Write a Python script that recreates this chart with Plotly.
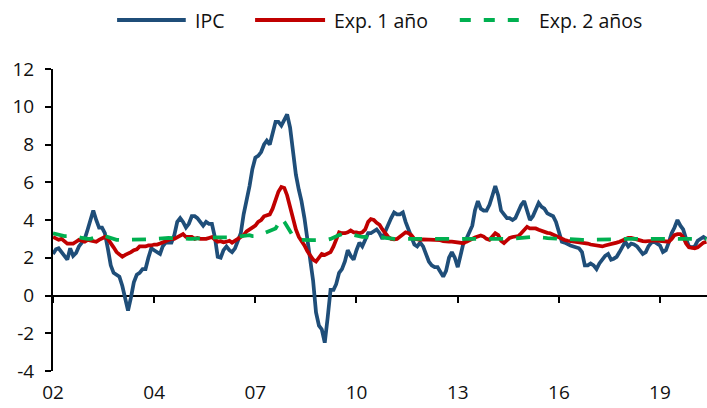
import plotly.graph_objects as go
import pandas as pd

# Monthly observations, Jan 2002 .. Nov 2020
start_month = "2002-01-01"
n_months = 227
dates = pd.date_range(start_month, periods=n_months, freq="MS")

ipc = [
    2.2, 2.45, 2.5, 2.3, 2.05, 1.9, 2.5, 2.1, 2.25, 2.6, 2.8, 3.0,
    3.5, 4.0, 4.5, 4.0, 3.6, 3.6, 3.3, 2.5, 1.6, 1.2, 1.1, 1.0,
    0.5, -0.2, -0.8, -0.1, 0.7, 1.1, 1.2, 1.4, 1.4, 2.0, 2.5, 2.4,
    2.3, 2.2, 2.6, 2.8, 2.8, 2.8, 3.2, 3.9, 4.1, 3.9, 3.6, 3.8,
    4.2, 4.2, 4.1, 3.9, 3.7, 3.9, 3.8, 3.8, 3.1, 2.05, 2.0, 2.4,
    2.6, 2.4, 2.3, 2.5, 2.9, 3.3, 4.3, 5.0, 5.8, 6.7, 7.3, 7.4,
    7.6, 8.0, 8.2, 8.0, 8.6, 9.2, 9.2, 9.0, 9.3, 9.6, 8.9, 7.5,
    6.4, 5.6, 5.0, 4.1, 3.0, 2.0, 0.8, -0.9, -1.6, -1.8, -2.5, -1.2,
    0.3, 0.3, 0.6, 1.2, 1.4, 1.8, 2.4, 2.1, 1.9, 2.4, 2.8, 2.6,
    3.0, 3.3, 3.3, 3.4, 3.5, 3.3, 3.0, 3.4, 3.8, 4.1, 4.4, 4.3,
    4.3, 4.4, 3.9, 3.5, 3.1, 2.7, 2.6, 2.8, 2.6, 2.2, 1.8, 1.6,
    1.5, 1.5, 1.3, 1.0, 1.3, 2.0, 2.3, 2.0, 1.5, 2.2, 2.8, 3.0,
    3.3, 3.7, 4.5, 5.0, 4.6, 4.5, 4.5, 4.8, 5.3, 5.8, 5.3, 4.5,
    4.3, 4.1, 4.1, 4.0, 4.1, 4.5, 4.8, 5.0, 4.5, 4.0, 4.2, 4.5,
    4.9, 4.7, 4.6, 4.35, 4.3, 4.2, 3.9, 3.3, 2.85, 2.8, 2.7, 2.65,
    2.6, 2.55, 2.5, 2.3, 1.6, 1.6, 1.7, 1.6, 1.4, 1.7, 1.9, 2.1,
    2.2, 1.9, 1.95, 2.05, 2.3, 2.6, 2.85, 2.6, 2.75, 2.7, 2.6, 2.4,
    2.2, 2.3, 2.6, 2.8, 2.85, 2.75, 2.65, 2.3, 2.4, 2.8, 3.3, 3.6,
    4.0, 3.7, 3.5, 3.0, 2.6, 2.55, 2.6, 2.9, 3.0, 3.1, 3.0,
]

exp_1y = [
    3.1, 3.0, 2.95, 3.0, 2.85, 2.75, 2.75, 2.75, 2.85, 2.95, 2.9, 2.85,
    2.95, 2.9, 2.85, 2.85, 2.95, 3.0, 3.1, 3.0, 2.8, 2.55, 2.3, 2.2,
    2.05, 2.15, 2.25, 2.3, 2.4, 2.45, 2.6, 2.6, 2.6, 2.65, 2.65, 2.7,
    2.7, 2.75, 2.8, 2.85, 2.95, 3.0, 3.0, 3.1, 3.2, 3.25, 3.1, 3.1,
    3.1, 3.0, 3.05, 3.0, 3.0, 3.0, 3.05, 3.1, 2.97, 2.85, 2.88, 2.82,
    2.85, 2.9, 2.8, 2.9, 2.97, 3.05, 3.2, 3.4, 3.5, 3.55, 3.7, 3.9,
    4.0, 4.2, 4.25, 4.3, 4.6, 5.1, 5.5, 5.75, 5.7, 5.3, 4.7, 4.0,
    3.5, 3.1, 2.9, 2.65, 2.35, 2.1, 1.9, 1.8, 2.05, 2.2, 2.15, 2.25,
    2.3, 2.6, 3.0, 3.35, 3.3, 3.3, 3.35, 3.45, 3.35, 3.35, 3.3, 3.35,
    3.5, 3.9, 4.05, 4.0, 3.85, 3.75, 3.5, 3.3, 3.1, 3.0, 2.97, 3.0,
    3.1, 3.2, 3.35, 3.3, 3.2, 3.0, 2.95, 2.95, 2.97, 2.97, 2.95, 2.95,
    2.95, 2.95, 2.93, 2.88, 2.85, 2.85, 2.85, 2.82, 2.8, 2.77, 2.77, 2.85,
    2.95, 3.0, 3.08, 3.15, 3.18, 3.12, 3.0, 2.95, 3.15, 3.3, 3.2, 2.9,
    2.78, 2.95, 3.05, 3.1, 3.12, 3.15, 3.3, 3.5, 3.64, 3.55, 3.55, 3.55,
    3.48, 3.42, 3.38, 3.32, 3.3, 3.22, 3.15, 3.05, 3.0, 2.94, 2.9, 2.88,
    2.87, 2.86, 2.85, 2.83, 2.8, 2.75, 2.7, 2.67, 2.62, 2.58, 2.6, 2.65,
    2.68, 2.7, 2.74, 2.8, 2.85, 2.92, 3.0, 3.05, 3.05, 3.0, 2.97, 2.93,
    2.88, 2.87, 2.87, 2.9, 2.92, 2.9, 2.87, 2.85, 2.85, 2.85, 3.0, 3.2,
    3.25, 3.25, 3.1, 2.75, 2.55, 2.5, 2.5, 2.55, 2.7, 2.8, 2.85,
]

exp_2y = [
    3.3, 3.25, 3.2, 3.2, 3.15, 3.15, 3.1, 3.1, 3.1, 3.1, 3.05, 3.0,
    3.0, 3.0, 3.05, 3.1, 3.15, 3.2, 3.15, 3.1, 3.0, 2.95, 2.95, 2.94,
    2.94, 2.94, 2.94, 2.94, 2.94, 2.94, 2.95, 2.97, 2.98, 2.98, 2.98, 3.0,
    3.0, 3.0, 3.02, 3.04, 3.05, 3.06, 3.05, 3.04, 3.02, 3.0, 3.0, 3.0,
    3.0, 3.0, 3.0, 3.0, 3.02, 3.04, 3.06, 3.08, 3.08, 3.08, 3.08, 3.07,
    3.06, 3.06, 3.06, 3.08, 3.12, 3.15, 3.18, 3.2, 3.2, 3.15, 3.15, 3.2,
    3.22, 3.3, 3.35, 3.4, 3.5, 3.55, 3.8, 4.1, 3.9, 3.6, 3.4, 3.15,
    3.0, 2.95, 2.94, 2.94, 2.94, 2.94, 2.94, 2.94, 2.94, 2.94, 2.94, 2.96,
    3.0, 3.08, 3.15, 3.2, 3.25, 3.3, 3.3, 3.25, 3.2, 3.2, 3.15, 3.1,
    3.1, 3.1, 3.1, 3.1, 3.1, 3.1, 3.08, 3.05, 3.02, 3.0, 3.0, 3.0,
    3.0, 3.0, 3.0, 3.0, 3.0, 3.0, 3.0, 3.0, 3.0, 3.0, 3.0, 3.0,
    2.97, 2.97, 2.97, 2.97, 2.97, 2.97, 2.97, 2.97, 2.97, 2.97, 2.97, 2.97,
    2.98, 3.0, 3.0, 3.0, 3.0, 3.0, 3.0, 3.0, 3.0, 3.0, 3.0, 3.0,
    3.0, 3.0, 3.0, 3.0, 3.02, 3.04, 3.06, 3.08, 3.08, 3.1, 3.1, 3.1,
    3.1, 3.08, 3.06, 3.04, 3.02, 3.0, 3.0, 3.0, 3.0, 3.0, 3.0, 3.0,
    2.98, 2.97, 2.96, 2.95, 2.95, 2.94, 2.94, 2.94, 2.94, 2.94, 2.94, 2.94,
    2.94, 2.94, 2.95, 2.96, 2.97, 2.98, 3.0, 3.0, 3.0, 3.0, 3.0, 3.0,
    3.0, 3.0, 3.0, 3.0, 3.0, 3.0, 3.0, 3.0, 3.0, 3.0, 3.0, 3.0,
    3.0, 3.0, 3.0, 3.0, 3.0, 3.0, 3.0, 3.0, 3.0, 3.0, 3.0,
]

series_names = ["IPC", "Exp. 1 año", "Exp. 2 años"]
tick_dates = ["2002-01-01", "2004-12-01", "2007-11-01", "2010-10-01",
              "2013-09-01", "2016-08-01", "2019-07-01"]
tick_labels = ["02", "04", "07", "10", "13", "16", "19"]
y_ticks = [-4, -2, 0, 2, 4, 6, 8, 10, 12]
y_tick_labels = ["-4", "-2", "0", "2", "4", "6", "8", "10", "12"]
x_range = ["2002-01-01", "2020-11-07"]
y_range = [-4, 12]

BLUE = "#1F4E79"
RED = "#C00000"
GREEN = "#00B050"
FONT = "Open Sans"
TEXT = "#111111"
LW = 3.75
GREEN_DASH = "14px,13px"

fig = go.Figure()
fig.add_trace(go.Scatter(x=dates, y=ipc, name=series_names[0], mode="lines",
                         line=dict(color=BLUE, width=LW)))
fig.add_trace(go.Scatter(x=dates, y=exp_1y, name=series_names[1], mode="lines",
                         line=dict(color=RED, width=LW)))
fig.add_trace(go.Scatter(x=dates, y=exp_2y, name=series_names[2], mode="lines",
                         xaxis="x2",
                         line=dict(color=GREEN, width=LW, dash=GREEN_DASH)))

# Legend drawn as a key row above the plot (long line samples like the original)
legend_row_y = 1.162
legend_keys = [
    (0.098, 0.203, 0.214, BLUE, "solid"),
    (0.309, 0.416, 0.427, RED, "solid"),
    (0.622, 0.729, 0.740, GREEN, "11px,13px"),
]
shapes = []
annotations = []
for (x0, x1, xt, col, dsh), name in zip(legend_keys, series_names):
    shapes.append(dict(type="line", xref="paper", yref="paper",
                       x0=x0, x1=x1, y0=legend_row_y, y1=legend_row_y,
                       line=dict(color=col, width=4, dash=dsh)))
    annotations.append(dict(xref="paper", yref="paper", x=xt, y=legend_row_y,
                            xanchor="left", yanchor="middle", showarrow=False,
                            text=name, font=dict(family=FONT, size=19.5, color=TEXT)))

fig.update_layout(
    width=707, height=408,
    margin=dict(l=53, r=0, t=69, b=37, autoexpand=False),
    plot_bgcolor="white", paper_bgcolor="white",
    font=dict(family=FONT, size=19, color=TEXT),
    showlegend=False,
    hovermode=False,
    shapes=shapes,
    annotations=annotations,
    xaxis=dict(type="date", range=x_range, tickvals=tick_dates, ticktext=tick_labels,
               showgrid=False, zeroline=False, showline=False, automargin=False,
               ticks="outside", ticklen=4, tickcolor="rgba(0,0,0,0)"),
    xaxis2=dict(type="date", overlaying="x", matches="x", anchor="free", position=0.25,
                tickvals=tick_dates, showticklabels=False, showgrid=False,
                zeroline=False, showline=False, automargin=False,
                ticks="outside", ticklen=6, tickwidth=2, tickcolor="black"),
    yaxis=dict(range=y_range, tickvals=y_ticks, ticktext=y_tick_labels,
               showgrid=False, automargin=False,
               showline=True, linecolor="black", linewidth=2,
               ticks="outside", ticklen=6, tickwidth=2, tickcolor="black",
               ticklabelstandoff=7,
               zeroline=True, zerolinecolor="black", zerolinewidth=2),
)

fig.write_html("out.html",
               config={"displayModeBar": False, "staticPlot": True},
               post_script="document.body.style.margin='0';document.body.style.overflow='hidden';")
